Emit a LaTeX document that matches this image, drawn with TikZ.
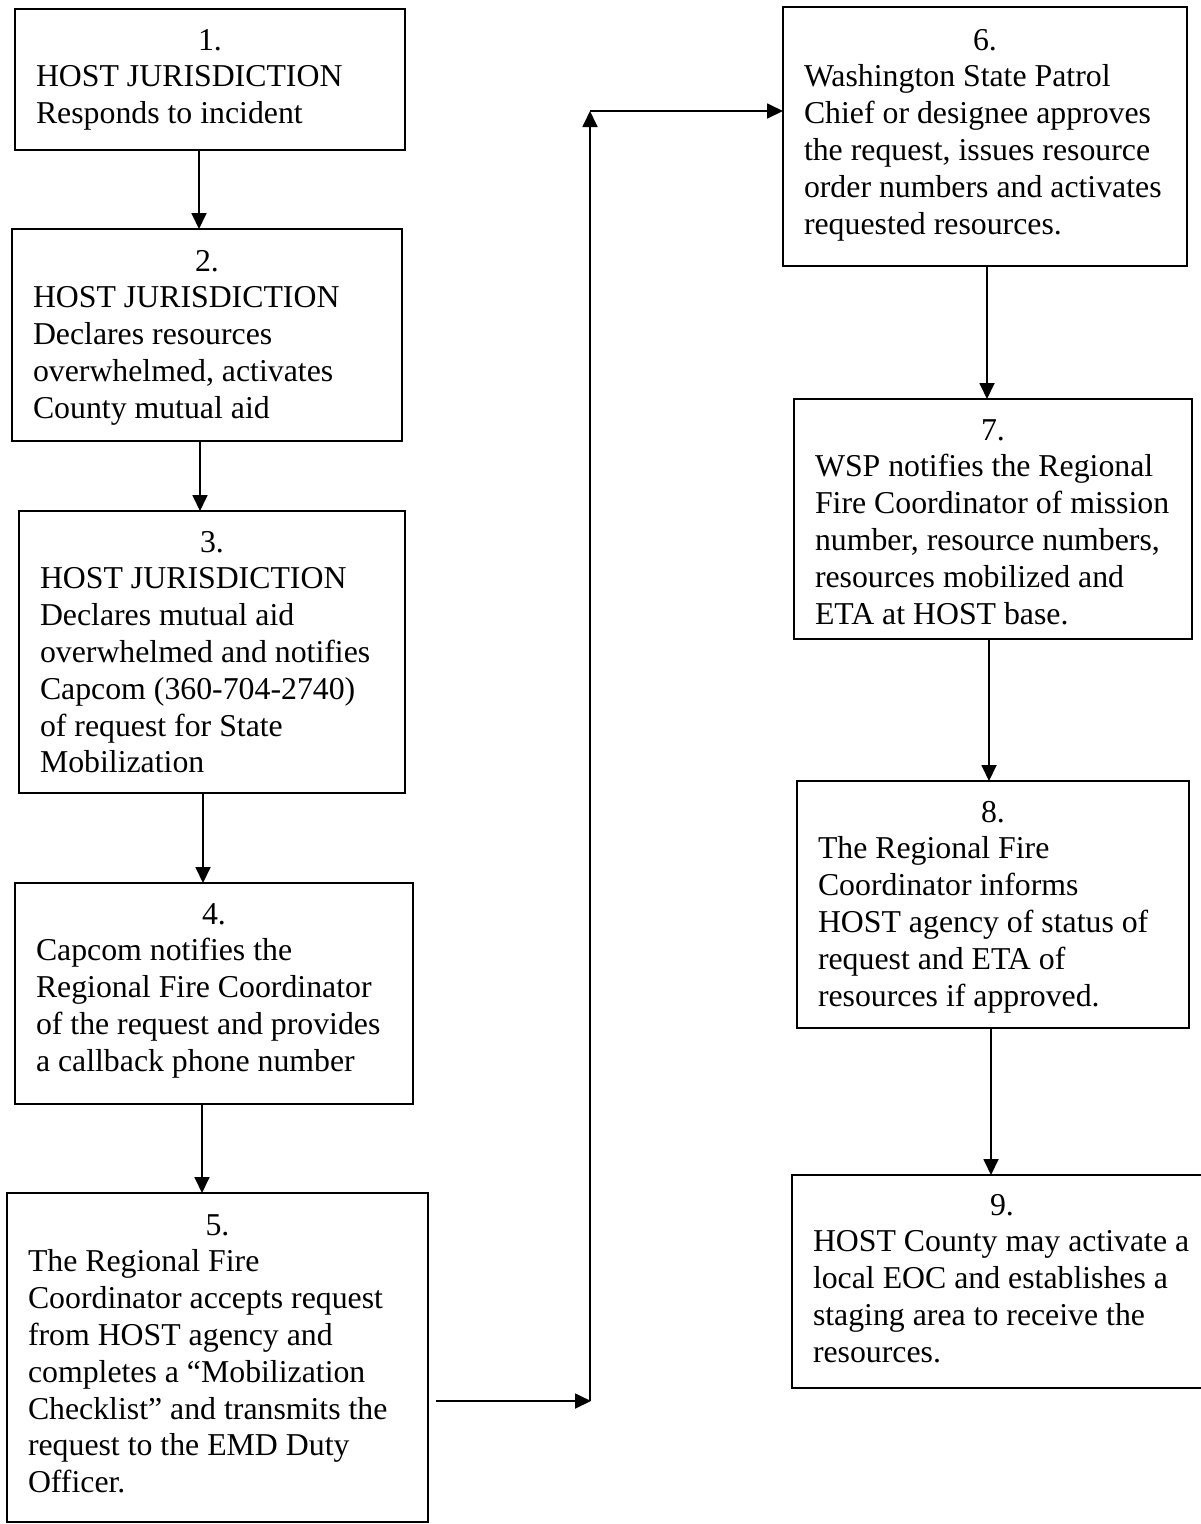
\documentclass[tikz,border=0pt]{standalone}
\usepackage{fontspec}
\setmainfont{Liberation Serif}
\usetikzlibrary{arrows.meta}
\tikzset{
 boxst/.style={draw, line width=1.8pt, rectangle, inner sep=0pt, outer sep=0pt},
 txtst/.style={inner sep=0pt, outer sep=0pt, align=left, font=\fontsize{31.8}{36.8}\selectfont, anchor=north west},
 arr/.style={line width=1.8pt, -{Triangle[length=16pt,width=15pt]}},
}
\newcommand{\flowbox}[8]{%
 \pgfmathsetmacro\fbW{#4-#2}\pgfmathsetmacro\fbH{#5-#3}\pgfmathsetmacro\fbT{#4-#2-42}%
 \node[boxst, minimum width=\fbW pt, minimum height=\fbH pt, anchor=north west] (#1) at (#2,#3) {};
 \node[txtst] (#1t) at ({#2+21},{#6-25.76}) {\makebox[\fbT pt]{\strut #7}\\#8};
}
\begin{document}
\begin{tikzpicture}[x=1pt,y=-1pt]
\useasboundingbox (0,0) rectangle (1201,1524);
\flowbox{b1}{15}{9}{405}{150}{50}{1.}{HOST JURISDICTION\\Responds to incident}
\flowbox{b2}{12}{229}{402}{441}{271}{2.}{HOST JURISDICTION\\Declares resources\\overwhelmed, activates\\County mutual aid}
\flowbox{b3}{19}{511}{405}{793}{552}{3.}{HOST JURISDICTION\\Declares mutual aid\\overwhelmed and notifies\\Capcom (360-704-2740)\\of request for State\\Mobilization}
\flowbox{b4}{15}{883}{413}{1104}{924}{4.}{Capcom notifies the\\Regional Fire Coordinator\\of the request and provides\\a callback phone number}
\flowbox{b5}{7}{1193}{428}{1522}{1235}{5.}{The Regional Fire\\Coordinator accepts request\\from HOST agency and\\completes a “Mobilization\\Checklist” and transmits the\\request to the EMD Duty\\Officer.}
\flowbox{b6}{783}{7}{1187}{266}{50}{6.}{Washington State Patrol\\Chief or designee approves\\the request, issues resource\\order numbers and activates\\requested resources.}
\flowbox{b7}{794}{399}{1192}{639}{440}{7.}{WSP notifies the Regional\\Fire Coordinator of mission\\number, resource numbers,\\resources mobilized and\\ETA at HOST base.}
\flowbox{b8}{797}{781}{1189}{1028}{822}{8.}{The Regional Fire\\Coordinator informs\\HOST agency of status of\\request and ETA of\\resources if approved.}
\flowbox{b9}{792}{1175}{1212}{1388}{1215}{9.}{HOST County may activate a\\local EOC and establishes a\\staging area to receive the\\resources.}
% vertical connectors
\coordinate (ax1) at (199,0);
\coordinate (ax2) at (200,0);
\coordinate (ax3) at (203,0);
\coordinate (ax4) at (202,0);
\coordinate (ax6) at (987,0);
\coordinate (ax7) at (989,0);
\coordinate (ax8) at (991,0);
\draw[arr] (b1.south -| ax1) -- (b2.north -| ax1);
\draw[arr] (b2.south -| ax2) -- (b3.north -| ax2);
\draw[arr] (b3.south -| ax3) -- (b4.north -| ax3);
\draw[arr] (b4.south -| ax4) -- (b5.north -| ax4);
\draw[arr] (b6.south -| ax6) -- (b7.north -| ax6);
\draw[arr] (b7.south -| ax7) -- (b8.north -| ax7);
\draw[arr] (b8.south -| ax8) -- (b9.north -| ax8);
% connector from 5 to 6
\coordinate (s5) at (436,1401);
\coordinate (c1) at (591,1401);
\coordinate (c2) at (590,111);
\draw[arr] (s5) -- (c1);
\draw[arr] (c2 |- c1) -- (c2);
\draw[arr] (c2) -- (b6.west |- c2);
\end{tikzpicture}
\end{document}
